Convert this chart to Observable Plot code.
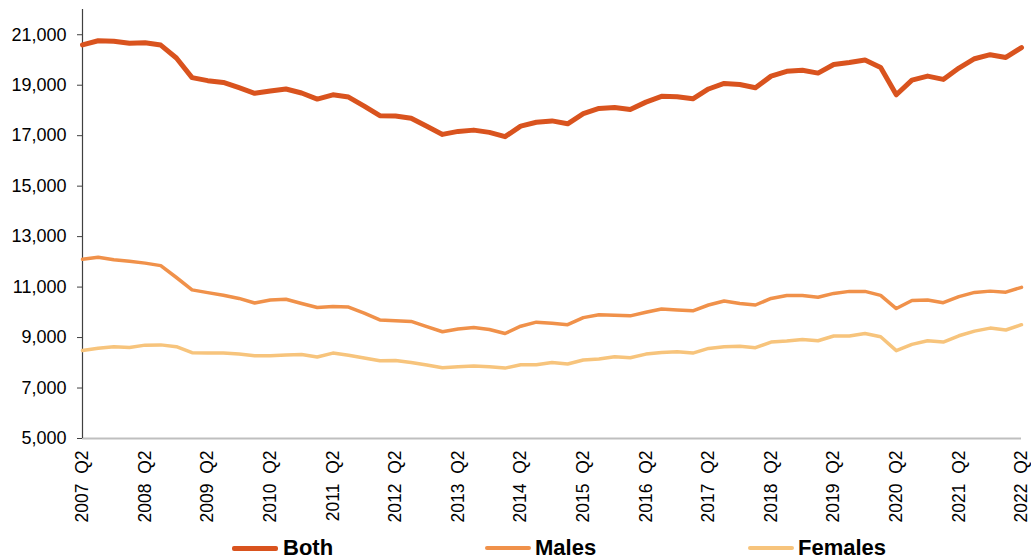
<!DOCTYPE html>
<html>
<head>
<meta charset="utf-8">
<script src="https://cdn.jsdelivr.net/npm/d3@7"></script>
<script src="https://cdn.jsdelivr.net/npm/@observablehq/plot@0.6"></script>
<style>
  html, body { margin: 0; padding: 0; background: #fff; }
  #wrap { position: relative; width: 1031px; height: 560px; overflow: hidden; font-family: "Liberation Sans", Arial, sans-serif; }
  .sw { position: absolute; height: 5px; border-radius: 2px; }
  .lt { position: absolute; font-weight: bold; font-size: 22px; line-height: 22px; color: #000; white-space: nowrap; }
</style>
</head>
<body>
<div id="wrap"></div>
<script>
const quarters = [
  "2007 Q2","2007 Q3","2007 Q4",
  "2008 Q1","2008 Q2","2008 Q3","2008 Q4",
  "2009 Q1","2009 Q2","2009 Q3","2009 Q4",
  "2010 Q1","2010 Q2","2010 Q3","2010 Q4",
  "2011 Q1","2011 Q2","2011 Q3","2011 Q4",
  "2012 Q1","2012 Q2","2012 Q3","2012 Q4",
  "2013 Q1","2013 Q2","2013 Q3","2013 Q4",
  "2014 Q1","2014 Q2","2014 Q3","2014 Q4",
  "2015 Q1","2015 Q2","2015 Q3","2015 Q4",
  "2016 Q1","2016 Q2","2016 Q3","2016 Q4",
  "2017 Q1","2017 Q2","2017 Q3","2017 Q4",
  "2018 Q1","2018 Q2","2018 Q3","2018 Q4",
  "2019 Q1","2019 Q2","2019 Q3","2019 Q4",
  "2020 Q1","2020 Q2","2020 Q3","2020 Q4",
  "2021 Q1","2021 Q2","2021 Q3","2021 Q4",
  "2022 Q1","2022 Q2"
];

const both = [
  20600, 20760, 20740, 20660, 20680, 20590, 20080, 19300, 19180, 19110,
  18900, 18680, 18770, 18850, 18690, 18450, 18620, 18530, 18170, 17790,
  17780, 17690, 17370, 17050, 17170, 17220, 17130, 16960, 17380, 17530,
  17585, 17470, 17870, 18080, 18120, 18040, 18330, 18560, 18540, 18460,
  18850, 19070, 19030, 18900, 19360, 19550, 19590, 19480, 19820, 19900,
  20000, 19700, 18620, 19200, 19360, 19230, 19680, 20050, 20210, 20100,
  20490
];

const males = [
  12100, 12180, 12080, 12020, 11950, 11850, 11380, 10890, 10780, 10680,
  10550, 10370, 10490, 10520, 10350, 10190, 10230, 10210, 9970, 9700,
  9670, 9640, 9430, 9230, 9340, 9400, 9320, 9160, 9450, 9610,
  9570, 9510, 9790, 9900, 9880, 9860, 10000, 10130, 10090, 10060,
  10290, 10450, 10350, 10290, 10550, 10670, 10670, 10600, 10750, 10830,
  10830, 10670, 10150, 10470, 10490, 10380, 10620, 10790, 10840, 10800,
  10990
];

const females = [
  8490, 8580, 8640, 8610, 8700, 8710, 8640, 8400, 8385, 8385,
  8345, 8280, 8280, 8305, 8330, 8230, 8385, 8300, 8190, 8080,
  8090, 8010, 7910, 7800, 7840, 7870, 7840, 7790, 7920, 7920,
  8010, 7950, 8110, 8150, 8240, 8200, 8345, 8410, 8440, 8385,
  8570, 8635, 8660, 8600, 8820, 8860, 8925, 8875, 9060, 9060,
  9160, 9030, 8480, 8730, 8875, 8820, 9070, 9255, 9375, 9300,
  9510
];

const seriesNames = ["Both", "Males", "Females"];
const seriesColors = ["#D9531E", "#F0914A", "#F7C47C"];
const seriesWidths = [5, 3.5, 3.5];
const yTicks = [5000, 7000, 9000, 11000, 13000, 15000, 17000, 19000, 21000];
const xTickLabels = quarters.filter(q => q.endsWith("Q2"));

const rows = [];
[both, males, females].forEach((vals, s) => {
  vals.forEach((v, i) => rows.push({series: seriesNames[s], quarter: quarters[i], value: v}));
});

const chart = Plot.plot({
  width: 1031,
  height: 532,
  marginLeft: 82,
  marginRight: 10,
  marginTop: 9,
  marginBottom: 94,
  style: {fontFamily: "'Liberation Sans', Arial, sans-serif", fontSize: "17px", color: "#000", background: "#fff"},
  x: {type: "point", domain: quarters, padding: 0, label: null},
  y: {domain: [5000, 22000], label: null},
  marks: [
    Plot.axisY({ticks: yTicks, tickFormat: d3.format(","), tickSize: 5, tickPadding: 11, stroke: "#404040", fill: "#000", fontSize: 18, label: null}),
    Plot.axisX({ticks: xTickLabels, tickSize: 0, tickPadding: 12, tickRotate: -90, fill: "#000", fontSize: 17.5, label: null,
                tickFormat: d => d.replace(" ", "\u00a0\u00a0")}),
    Plot.ruleY([5000], {stroke: "#BFBFBF", strokeWidth: 2}),
    Plot.ruleX([quarters[0]], {y1: 5000, y2: 22000, stroke: "#404040", strokeWidth: 1.2}),
    ...seriesNames.slice().reverse().map((name) => {
      const k = seriesNames.indexOf(name);
      return Plot.line(rows.filter(r => r.series === name), {
        x: "quarter", y: "value",
        stroke: seriesColors[k], strokeWidth: seriesWidths[k],
        strokeLinejoin: "round", strokeLinecap: "round"
      });
    })
  ]
});

const wrap = document.getElementById("wrap");
chart.style.display = "block";
wrap.appendChild(chart);

const legendPos = [
  {sw: 232, tx: 283},
  {sw: 485, tx: 535},
  {sw: 748, tx: 798}
];
seriesNames.forEach((name, k) => {
  const sw = document.createElement("div");
  sw.className = "sw";
  sw.style.left = legendPos[k].sw + "px";
  sw.style.width = "46px";
  sw.style.height = seriesWidths[k] + "px";
  sw.style.top = (548 - seriesWidths[k] / 2) + "px";
  sw.style.background = seriesColors[k];
  wrap.appendChild(sw);
  const t = document.createElement("div");
  t.className = "lt";
  t.style.left = legendPos[k].tx + "px";
  t.style.top = "537px";
  t.textContent = name;
  wrap.appendChild(t);
});
</script>
</body>
</html>
